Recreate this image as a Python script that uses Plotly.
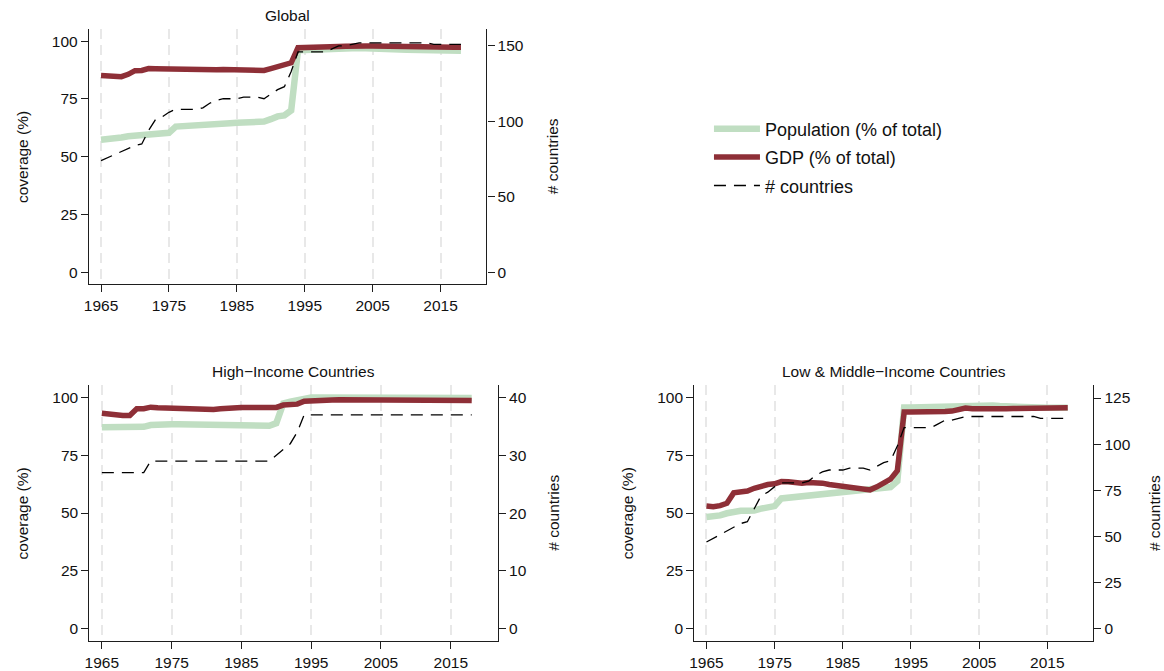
import plotly.graph_objects as go

# ---------------- data ----------------
years = list(range(1965, 2019))

glob_pop = [57.3, 57.4, 57.8, 58.3, 58.8, 59.1, 59.2, 59.3, 59.8, 60.0,
            60.3, 63.0, 63.1, 63.2, 63.4, 63.6, 63.8, 64.0, 64.2, 64.4,
            64.6, 64.7, 64.8, 65.0, 65.2, 66.2, 67.4, 67.8, 70.0, 96.0,
            96.2, 96.3, 96.4, 96.5, 96.6, 96.7, 96.8, 96.9, 97.0, 97.0,
            96.9, 96.8, 96.7, 96.5, 96.3, 96.2, 96.1, 96.0, 96.0, 95.9,
            95.9, 95.8, 95.8, 95.8]
glob_gdp = [85.1, 84.8, 84.6, 84.6, 85.6, 87.2, 87.3, 88.1, 88.0, 87.9,
            87.9, 87.8, 87.7, 87.6, 87.5, 87.5, 87.5, 87.6, 87.7, 87.7,
            87.6, 87.5, 87.4, 87.2, 87.3, 88.1, 88.9, 89.4, 90.6, 97.1,
            97.3, 97.3, 97.4, 97.5, 97.6, 97.7, 97.8, 98.0, 98.0, 97.9,
            97.9, 97.8, 97.8, 97.7, 97.7, 97.6, 97.6, 97.5, 97.5, 97.4,
            97.4, 97.3, 97.3, 97.3]
glob_n = [74, 76, 78, 80, 82, 84, 85, 94, 101, 103,
          106, 108, 108, 108, 108, 109, 112, 114, 115, 115,
          115, 116, 116, 116, 115, 118, 121, 123, 133, 146,
          146, 146, 146, 146, 148, 150, 150, 151, 152, 152,
          152, 152, 152, 152, 152, 152, 152, 152, 152, 151,
          151, 151, 151, 151]

hic_pop = [87.0, 87.0, 87.0, 87.0, 87.1, 87.1, 87.2, 88.0, 88.3, 88.4,
           88.3, 88.3, 88.2, 88.2, 88.1, 88.1, 88.0, 88.0, 87.9, 87.9,
           87.8, 87.8, 87.7, 87.7, 87.7, 88.8, 97.3, 98.1, 98.8, 99.8,
           99.9, 99.9, 99.9, 99.9, 99.9, 99.9, 99.9, 99.9, 99.9, 99.9,
           99.9, 99.9, 99.9, 99.9, 99.9, 99.9, 99.9, 99.9, 99.9, 99.8,
           99.8, 99.7, 99.7, 99.7]
hic_gdp = [93.1, 92.7, 92.3, 92.1, 92.1, 95.0, 95.0, 95.7, 95.4, 95.3,
           95.3, 95.0, 95.0, 95.0, 94.7, 94.7, 94.7, 95.0, 95.3, 95.4,
           95.6, 95.6, 95.6, 95.6, 95.6, 95.6, 96.6, 96.6, 97.0, 98.3,
           98.3, 98.3, 98.7, 98.8, 98.9, 98.9, 98.9, 98.9, 98.9, 98.9,
           98.9, 98.9, 98.9, 98.9, 98.9, 98.9, 98.9, 98.9, 98.9, 98.9,
           98.7, 98.6, 98.6, 98.6]
hic_n = [27, 27, 27, 27, 27, 27, 27, 29, 29, 29,
         29, 29, 29, 29, 29, 29, 29, 29, 29, 29,
         29, 29, 29, 29, 29, 30, 31, 32, 34, 37,
         37, 37, 37, 37, 37, 37, 37, 37, 37, 37,
         37, 37, 37, 37, 37, 37, 37, 37, 37, 37,
         37, 37, 37, 37]

lmic_pop = [48.3, 48.3, 49.0, 49.9, 50.6, 51.0, 51.0, 51.1, 51.9, 52.1,
            53.0, 56.3, 56.6, 56.7, 57.2, 57.6, 57.9, 58.0, 58.3, 58.6,
            58.9, 59.2, 59.5, 59.6, 59.9, 60.3, 60.6, 61.2, 63.8, 95.6,
            95.6, 95.7, 95.7, 95.8, 95.9, 96.0, 96.1, 96.2, 96.4, 96.4,
            96.4, 96.4, 96.4, 96.2, 96.0, 95.8, 95.7, 95.6, 95.5, 95.5,
            95.4, 95.4, 95.4, 95.4]
lmic_gdp = [53.0, 52.7, 53.2, 54.2, 58.7, 58.9, 59.5, 60.7, 61.6, 62.3,
            62.6, 63.6, 63.5, 63.0, 62.9, 63.2, 63.2, 62.9, 62.3, 61.9,
            61.6, 61.3, 60.9, 60.0, 60.0, 61.3, 62.9, 64.6, 68.3, 93.6,
            93.6, 93.6, 93.6, 93.4, 93.6, 93.8, 94.0, 94.4, 95.3, 95.0,
            94.9, 94.9, 94.9, 94.9, 95.0, 95.1, 95.1, 95.3, 95.2, 95.3,
            95.4, 95.4, 95.4, 95.4]
lmic_n = [47, 49, 51, 53, 55, 57, 58, 65, 72, 74,
          77, 79, 79, 79, 79, 80, 83, 85, 86, 86,
          86, 87, 87, 87, 86, 88, 90, 91, 99, 109,
          109, 109, 109, 109, 111, 113, 113, 114, 115, 115,
          115, 115, 115, 115, 115, 115, 115, 115, 115, 114,
          114, 114, 114, 114]

panel_titles = ["Global", "High\u2212Income Countries", "Low & Middle\u2212Income Countries"]
series_names = ["Population (% of total)", "GDP (% of total)", "# countries"]
x_ticks = [1965, 1975, 1985, 1995, 2005, 2015]
left_ticks = [0, 25, 50, 75, 100]
right_ticks = [[0, 50, 100, 150], [0, 10, 20, 30, 40], [0, 25, 50, 75, 100, 125]]

# ---------------- style / layout ----------------
W, H = 1164, 671
FONT = "Liberation Sans, Arial, Helvetica, sans-serif"
GREEN = "#c0dec2"
RED = "#8e2f37"
AXC = "#1e1e1e"

# panel boxes in pixels: (x0, x1, ytop, ybottom)
boxes = [(84.3, 483.5, 29.3, 285.3),
         (84.8, 495.0, 387.0, 643.7),
         (692.3, 1093.0, 387.0, 643.7)]
right_ranges = [[-7.8, 161.1], [-2.07, 42.1], [-6.5, 131.9]]
left_range = [-5.15, 105.15]
x_range = [1963.22, 2021.75]
# axis-title x positions (px)
ytitle_x = [(17.5, 550.0), (17.5, 550.0), (625.0, 1154.0)]

panels = [(glob_pop, glob_gdp, glob_n), (hic_pop, hic_gdp, hic_n), (lmic_pop, lmic_gdp, lmic_n)]

fig = go.Figure()
layout = dict(
    width=W, height=H, autosize=False,
    margin=dict(l=0, r=0, t=0, b=0, pad=0),
    paper_bgcolor="white", plot_bgcolor="white",
    font=dict(family=FONT, size=15.5, color="#111"),
    showlegend=True,
    legend=dict(x=707 / W, y=1 - 111 / H, xanchor="left", yanchor="top",
                font=dict(size=18, family=FONT, color="#111"),
                bgcolor="rgba(0,0,0,0)", tracegroupgap=2, itemwidth=46),
    annotations=[],
)

for i, (pop, gdp, n) in enumerate(panels):
    k = i + 1
    xa = "x" if k == 1 else f"x{k}"
    yl_i = 2 * i + 1
    yr_i = 2 * i + 2
    yl = "y" if yl_i == 1 else f"y{yl_i}"
    yr = f"y{yr_i}"
    x0, x1, yt, yb = boxes[i]
    dom_x = [x0 / W, x1 / W]
    dom_y = [1 - yb / H, 1 - yt / H]

    fig.add_trace(go.Scatter(x=years, y=pop, mode="lines", name=series_names[0],
                             line=dict(color=GREEN, width=6.5), xaxis=xa, yaxis=yl,
                             legendgroup="pop", showlegend=(i == 0)))
    fig.add_trace(go.Scatter(x=years, y=gdp, mode="lines", name=series_names[1],
                             line=dict(color=RED, width=5.5), xaxis=xa, yaxis=yl,
                             legendgroup="gdp", showlegend=(i == 0)))
    fig.add_trace(go.Scatter(x=years, y=n, mode="lines", name=series_names[2],
                             line=dict(color="black", width=1.3, dash="12px,8px"),
                             xaxis=xa, yaxis=yr,
                             legendgroup="n", showlegend=(i == 0)))

    xkey = "xaxis" if k == 1 else f"xaxis{k}"
    ylkey = "yaxis" if yl_i == 1 else f"yaxis{yl_i}"
    yrkey = f"yaxis{yr_i}"
    layout[xkey] = dict(domain=dom_x, anchor=yl, range=x_range, tickmode="array",
                        tickvals=x_ticks, ticks="outside", ticklen=7, tickwidth=1.2,
                        tickcolor=AXC, showline=True, linecolor=AXC, linewidth=1.2,
                        showgrid=True, gridcolor="#e8e8e8", gridwidth=1.5,
                        griddash="10px,6px", zeroline=False,
                        tickfont=dict(size=15.5, color="#111"))
    layout[ylkey] = dict(domain=dom_y, anchor=xa, range=left_range, tickmode="array",
                         tickvals=left_ticks, ticks="outside", ticklen=7, tickwidth=1.2,
                         tickcolor=AXC, showline=True, linecolor=AXC, linewidth=1.2,
                         showgrid=False, zeroline=False,
                         tickfont=dict(size=15.5, color="#111"))
    layout[yrkey] = dict(domain=dom_y, anchor=xa, overlaying=yl, side="right",
                         range=right_ranges[i], tickmode="array", tickvals=right_ticks[i],
                         ticks="outside", ticklen=7, tickwidth=1.2, tickcolor=AXC,
                         showline=True, linecolor=AXC, linewidth=1.2,
                         showgrid=False, zeroline=False,
                         tickfont=dict(size=15.5, color="#111"))

    # panel title
    layout["annotations"].append(dict(
        text=panel_titles[i], xref="paper", yref="paper",
        x=(x0 + x1) / 2 / W, y=1 - (yt - 14) / H, xanchor="center", yanchor="middle",
        showarrow=False, font=dict(size=15.5, family=FONT, color="#111")))
    # axis titles
    ymid = 1 - (yt + yb) / 2 / H
    layout["annotations"].append(dict(
        text="coverage (%)", xref="paper", yref="paper", x=ytitle_x[i][0] / W, y=ymid,
        xanchor="center", yanchor="middle", textangle=-90, showarrow=False,
        font=dict(size=15.5, family=FONT, color="#111")))
    layout["annotations"].append(dict(
        text="# countries", xref="paper", yref="paper", x=ytitle_x[i][1] / W, y=ymid,
        xanchor="center", yanchor="middle", textangle=-90, showarrow=False,
        font=dict(size=15.5, family=FONT, color="#111")))

fig.update_layout(**layout)
fig.write_html("out.html", config={"displayModeBar": False},
               post_script="document.body.style.margin='0';document.body.style.overflow='hidden';")
